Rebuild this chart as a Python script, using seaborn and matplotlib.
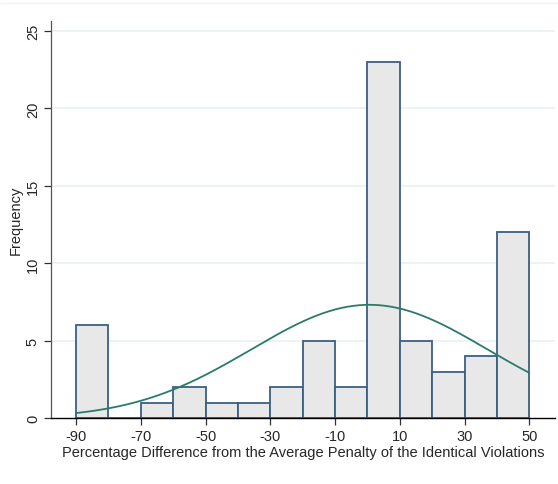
import numpy as np
import pandas as pd
import matplotlib
matplotlib.use("Agg")
import matplotlib.pyplot as plt
import seaborn as sns
from matplotlib.lines import Line2D

# histogram bins (width 10) and counts
bin_edges = [-90, -80, -70, -60, -50, -40, -30, -20, -10, 0, 10, 20, 30, 40, 50]
counts = [6, 0, 1, 2, 1, 1, 2, 5, 2, 23, 5, 3, 4, 12]
x_ticks = [-90, -70, -50, -30, -10, 10, 30, 50]
y_ticks = [0, 5, 10, 15, 20, 25]

# normal overlay parameters
norm_mean = 0.6
norm_sd = 36.5

sns.set_style("white")
plt.rcParams['font.family'] = ['Liberation Sans', 'DejaVu Sans']

fig = plt.figure(figsize=(5.58, 4.85), dpi=100)
ax = fig.add_axes([0.0914, 0.1355, 0.9032, 0.8195])

mids = [(a + b) / 2 for a, b in zip(bin_edges[:-1], bin_edges[1:])]
df = pd.DataFrame({"x": mids, "n": counts})
sns.histplot(data=df, x="x", weights="n", bins=bin_edges, ax=ax,
             color="#e8e8e8", edgecolor="#3b5f82", linewidth=1.3, alpha=1, zorder=2)

# normal density scaled to frequency
n_total = sum(counts)
width = bin_edges[1] - bin_edges[0]
xs = np.linspace(bin_edges[0], bin_edges[-1], 300)
ys = n_total * width * np.exp(-0.5 * ((xs - norm_mean) / norm_sd) ** 2) / (norm_sd * np.sqrt(2 * np.pi))
sns.lineplot(x=xs, y=ys, ax=ax, color="#2a7b6b", linewidth=1.3, zorder=3)

ax.set_xlim(-97.7, 57.9)
ax.set_ylim(0, 25.65)
ax.set_xticks(x_ticks)
ax.set_xticklabels([str(t) for t in x_ticks], fontsize=10.5)
ax.set_yticks(y_ticks)
ax.set_yticklabels([str(t) for t in y_ticks], fontsize=10.5, rotation=90, va="center")
for t in y_ticks[1:]:
    ax.axhline(t, color="#eaf1f3", linewidth=1.2, zorder=0)

ax.tick_params(axis="both", direction="out", length=5, width=0.9, color="#333333", pad=3)
ax.tick_params(left=True, bottom=True)
for s in ["top", "right"]:
    ax.spines[s].set_visible(False)
ax.spines["left"].set_color("#555555")
ax.spines["left"].set_linewidth(0.9)
ax.spines["bottom"].set_color("#000000")
ax.spines["bottom"].set_linewidth(1.0)

ax.set_xlabel("Percentage Difference from the Average Penalty of the Identical Violations",
              fontsize=10.5, labelpad=1)
ax.set_ylabel("Frequency", fontsize=10.5, labelpad=2)

# faint graph region edge at top
fig.add_artist(Line2D([0, 1], [0.991, 0.991], transform=fig.transFigure,
                      color="#eef3f4", linewidth=1))

fig.savefig("out.png", dpi=100)
